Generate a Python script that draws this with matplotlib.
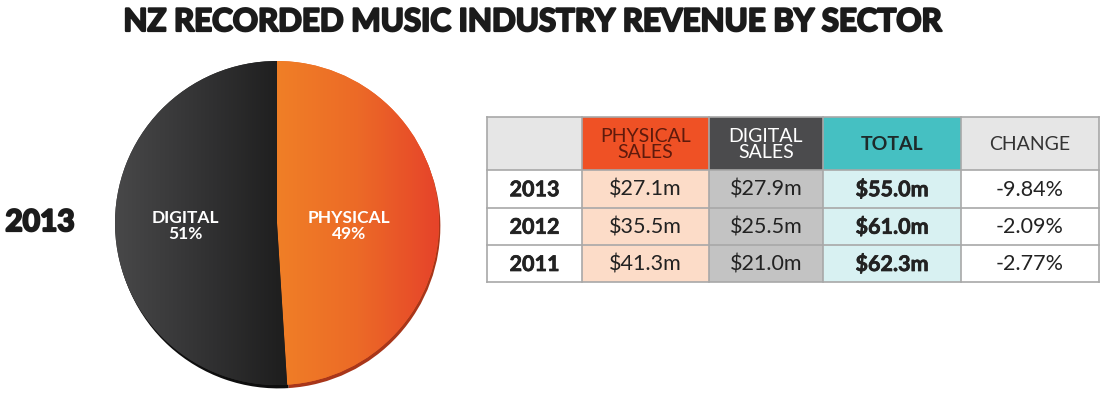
import numpy as np
import matplotlib
matplotlib.use("Agg")
import matplotlib.pyplot as plt
import matplotlib.patheffects as pe
from matplotlib.patches import Rectangle
from matplotlib.colors import LinearSegmentedColormap

# ---- data ----
title = "NZ RECORDED MUSIC INDUSTRY REVENUE BY SECTOR"
pie_year = "2013"
pie_labels = ["PHYSICAL", "DIGITAL"]
pie_values = [49, 51]

col_headers = ["", "PHYSICAL\nSALES", "DIGITAL\nSALES", "TOTAL", "CHANGE"]
years = ["2013", "2012", "2011"]
physical = [27.1, 35.5, 41.3]
digital = [27.9, 25.5, 21.0]
total = [55.0, 61.0, 62.3]
change = [-9.84, -2.09, -2.77]

W, H = 1100, 400
fig = plt.figure(figsize=(W / 100, H / 100), dpi=100)
fig.patch.set_facecolor("white")

# overlay axes in pixel coords
bg = fig.add_axes([0, 0, 1, 1])
bg.set_xlim(0, W)
bg.set_ylim(H, 0)
bg.axis("off")

FONT = ["Lato", "DejaVu Sans"]
heavy = [pe.withStroke(linewidth=1.6, foreground="#1b1b1b")]

bg.text(533, 22, title, ha="center", va="center", fontsize=22.5,
        fontweight="bold", family=FONT, color="#1b1b1b", path_effects=heavy)
bg.text(40, 222, pie_year, ha="center", va="center", fontsize=21.5,
        fontweight="bold", family=FONT, color="#1b1b1b", path_effects=heavy)

# ---- pie ----
cx, cy, R = 277, 223, 162
box = 170
ax = fig.add_axes([(cx - box) / W, (H - cy - box) / H, 2 * box / W, 2 * box / H])
ax.set_xlim(-1, 1)
ax.set_ylim(-1, 1)
ax.set_aspect("equal")
ax.axis("off")
r = R / box
# subtle 3D rim shadow
ax.pie(pie_values, startangle=90, counterclock=False, radius=r,
       center=(0.008, -0.02), colors=["#a8361a", "#0e0e0e"],
       wedgeprops=dict(linewidth=0))
wedges, _ = ax.pie(pie_values, startangle=90, counterclock=False, radius=r,
                   colors=["#ee6a28", "#2e2e2e"], wedgeprops=dict(linewidth=0))
ax.set_xlim(-1, 1)
ax.set_ylim(-1, 1)

grads = [
    LinearSegmentedColormap.from_list("phys", ["#f07f26", "#ec6a27", "#e6432a"]),
    LinearSegmentedColormap.from_list("dig", ["#484849", "#333334", "#1d1d1d"]),
]
xs = np.linspace(0, 1, 256)
grad_img = np.tile(xs, (2, 1))
for w, cm in zip(wedges, grads):
    th1, th2 = sorted([w.theta1, w.theta2])
    angs = np.radians(np.linspace(th1, th2, 100))
    xx = np.concatenate([[0], r * np.cos(angs)])
    im = ax.imshow(grad_img, cmap=cm, extent=[xx.min(), xx.max(), -r, r],
                   aspect="auto", zorder=2)
    im.set_clip_path(w)
ax.set_xlim(-1, 1)
ax.set_ylim(-1, 1)

total_pie = sum(pie_values)
label_pos = [(349, 226), (185, 226)]
for lab, v, (lx, ly) in zip(pie_labels, pie_values, label_pos):
    ax.text(lx, ly, f"{lab}\n{v / total_pie * 100:.0f}%", ha="center", va="center",
            fontsize=12.5, fontweight="bold", family=FONT, color="white",
            linespacing=1.0, zorder=5, transform=bg.transData)

# ---- table ----
col_x = [487, 582, 709, 823, 961, 1099]
row_y = [117, 170, 207.5, 245, 282]
head_fc = ["#e6e6e6", "#ef5125", "#4b4b4d", "#45c0c2", "#e6e6e6"]
head_tc = ["#222222", "#5e1a0c", "#ffffff", "#1e2a2a", "#333333"]
head_fw = ["normal", "normal", "normal", "bold", "normal"]
body_fc = ["#ffffff", "#fcdcc8", "#c3c3c3", "#d8f1f2", "#ffffff"]

for j in range(5):
    x0, x1 = col_x[j], col_x[j + 1]
    bg.add_patch(Rectangle((x0, row_y[0]), x1 - x0, row_y[1] - row_y[0],
                           facecolor=head_fc[j], edgecolor="none"))
    if col_headers[j]:
        bg.text((x0 + x1) / 2, (row_y[0] + row_y[1]) / 2 + 1, col_headers[j],
                ha="center", va="center", fontsize=14, fontweight=head_fw[j],
                family=FONT, color=head_tc[j], linespacing=0.92)

for i, yr in enumerate(years):
    y0, y1 = row_y[i + 1], row_y[i + 2]
    cells = [yr, f"${physical[i]:.1f}m", f"${digital[i]:.1f}m",
             f"${total[i]:.1f}m", f"{change[i]:.2f}%"]
    for j in range(5):
        x0, x1 = col_x[j], col_x[j + 1]
        bg.add_patch(Rectangle((x0, y0), x1 - x0, y1 - y0,
                               facecolor=body_fc[j], edgecolor="none"))
        bold = j in (0, 3)
        bg.text((x0 + x1) / 2, (y0 + y1) / 2 + 1, cells[j], ha="center", va="center",
                fontsize=15.5, fontweight="bold" if bold else "normal",
                family=FONT, color="#222222",
                path_effects=[pe.withStroke(linewidth=0.5, foreground="#222222")] if bold else None)

line_c = "#a8a8a8"
for y in row_y:
    bg.plot([col_x[0], col_x[-1]], [y, y], color=line_c, lw=1.2)
for x in col_x:
    bg.plot([x, x], [row_y[0], row_y[-1]], color=line_c, lw=1.2)

fig.savefig("out.png", dpi=100, facecolor="white")
